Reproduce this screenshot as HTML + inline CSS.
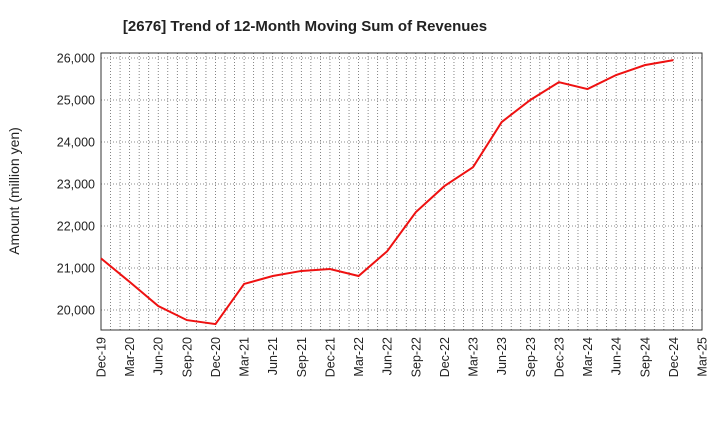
<!DOCTYPE html>
<html><head><meta charset="utf-8"><style>
body{margin:0;background:#fff;}
svg{display:block;font-family:"Liberation Sans",sans-serif;}
</style></head><body>
<svg id="chart" width="720" height="440" viewBox="0 0 720 440">
<text x="305" y="31" text-anchor="middle" font-size="15" font-weight="bold" fill="#222">[2676]  Trend of 12-Month Moving Sum of Revenues</text>
<text transform="translate(19,191) rotate(-90)" text-anchor="middle" font-size="14" fill="#222">Amount (million yen)</text>
<g id="grid"></g><g id="axes"></g><g id="series"></g>
</svg>
<script>
const categories=["Dec-19","Mar-20","Jun-20","Sep-20","Dec-20","Mar-21","Jun-21","Sep-21","Dec-21","Mar-22","Jun-22","Sep-22","Dec-22","Mar-23","Jun-23","Sep-23","Dec-23","Mar-24","Jun-24","Sep-24","Dec-24","Mar-25"];
const revenues=[21230,20670,20095,19760,19665,20620,20810,20930,20975,20810,21400,22330,22950,23400,24475,25000,25425,25260,25595,25830,25950];
const yTicks=[20000,21000,22000,23000,24000,25000,26000];
const NS="http://www.w3.org/2000/svg";
const L=101,R=702,T=53,B=330,yMin=19524,yMax=26119;
const x=i=>L+(R-L)*i/(categories.length-1);
const y=v=>B-(v-yMin)/(yMax-yMin)*(B-T);
function mk(tag,attrs,parent){const e=document.createElementNS(NS,tag);for(const k in attrs)e.setAttribute(k,attrs[k]);parent.appendChild(e);return e;}
const grid=document.getElementById('grid'),axes=document.getElementById('axes'),series=document.getElementById('series');
for(let m=0;m<=(categories.length-1)*3;m++){
  const xx=L+(R-L)*m/((categories.length-1)*3);
  const g=mk('line',{x1:xx,x2:xx,y1:T,y2:B,stroke:'#666','stroke-width':0.8,'stroke-dasharray':'1,2'},grid);
  
  
}
yTicks.forEach(v=>{
  const g=mk('line',{x1:L,x2:R,y1:y(v),y2:y(v),stroke:'#666','stroke-width':0.8,'stroke-dasharray':'1,2'},grid);
  
  
  const t=mk('text',{x:L-6,y:y(v)+4.5,'text-anchor':'end','font-size':12.5,fill:'#222'},axes);
  t.textContent=v.toLocaleString('en-US');
  
  
});
categories.forEach((c,i)=>{
  const t=mk('text',{transform:`translate(${x(i)+4.5},${B+7}) rotate(-90)`,'text-anchor':'end','font-size':12.5,fill:'#222'},axes);
  t.textContent=c;
  
  
});
const frame=mk('rect',{x:L,y:T,width:R-L,height:B-T,fill:'none',stroke:'#333','stroke-width':1},axes);


const line=mk('polyline',{points:revenues.map((v,i)=>x(i)+','+y(v)).join(' '),fill:'none',stroke:'#ee1111','stroke-width':2},series);


</script>
</body></html>
